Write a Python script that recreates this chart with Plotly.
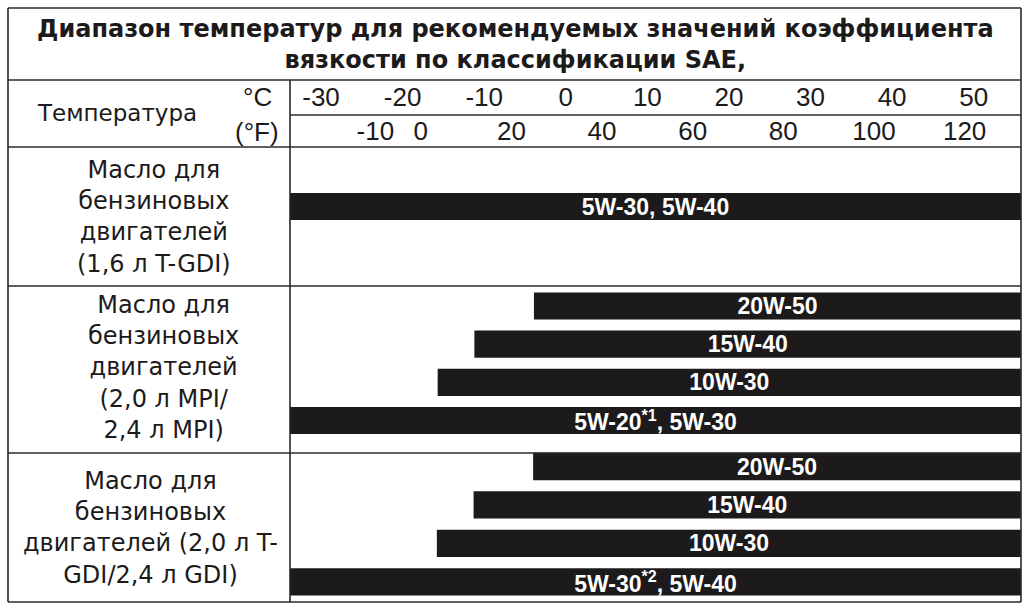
import plotly.graph_objects as go

W, H = 1026, 607

# ---------------- data ----------------
TITLE_LINES = ["Диапазон температур для рекомендуемых значений коэффициента",
               "вязкости по классификации SAE,"]
HEADER_LABEL = "Температура"
C_UNIT = "°C"
F_UNIT = "(°F)"

C_TICKS = [-30, -20, -10, 0, 10, 20, 30, 40, 50]
F_TICKS = [-10, 0, 20, 40, 60, 80, 100, 120]

# temperature range covered by the chart (°C)
T_MIN, T_MAX = -33.8, 55.8

SEC1_LABEL = ["Масло для", "бензиновых", "двигателей", "(1,6 л T-GDI)"]
SEC1_GRADES = ["5W-30, 5W-40"]
SEC1_TEXT = ["5W-30, 5W-40"]
SEC1_START = [T_MIN]
SEC1_END = [T_MAX]

SEC2_LABEL = ["Масло для", "бензиновых", "двигателей", "(2,0 л MPI/", "2,4 л MPI)"]
SEC2_GRADES = ["20W-50", "15W-40", "10W-30", "5W-20*1, 5W-30"]
SEC2_TEXT = ["20W-50", "15W-40", "10W-30", "5W-20<sup>*1</sup>, 5W-30"]
SEC2_START = [-3.9, -11.2, -15.7, T_MIN]
SEC2_END = [T_MAX, T_MAX, T_MAX, T_MAX]

SEC3_LABEL = ["Масло для", "бензиновых", "двигателей (2,0 л T-", "GDI/2,4 л GDI)"]
SEC3_GRADES = ["20W-50", "15W-40", "10W-30", "5W-30*2, 5W-40"]
SEC3_TEXT = ["20W-50", "15W-40", "10W-30", "5W-30<sup>*2</sup>, 5W-40"]
SEC3_START = [-4.0, -11.3, -15.8, T_MIN]
SEC3_END = [T_MAX, T_MAX, T_MAX, T_MAX]


# ---------------- helpers ----------------
def px(x):
    return x / W


def py(y):
    return 1 - y / H


def f_to_c(f):
    return (f - 32) * 5.0 / 9.0


FONT = "Liberation Sans, Arial, sans-serif"
WIDE = "DejaVu Sans, Liberation Sans, sans-serif"
INK = "#1c1a1a"
LINE = "#2a2a2a"

fig = go.Figure()

sections = [
    (SEC1_GRADES, SEC1_TEXT, SEC1_START, SEC1_END, "y"),
    (SEC2_GRADES, SEC2_TEXT, SEC2_START, SEC2_END, "y2"),
    (SEC3_GRADES, SEC3_TEXT, SEC3_START, SEC3_END, "y3"),
]
for grades, texts, starts, ends, yax in sections:
    fig.add_trace(go.Bar(
        y=grades,
        x=[e - s for s, e in zip(starts, ends)],
        base=starts,
        orientation="h",
        text=texts,
        textposition="inside",
        insidetextanchor="middle",
        textangle=0,
        constraintext="none",
        textfont=dict(family=FONT, size=23, color="white", weight="bold"),
        marker=dict(color=INK, line=dict(width=0)),
        xaxis="x",
        yaxis=yax,
        showlegend=False,
        hoverinfo="skip",
    ))

# invisible trace to bring the °F axis to life
fig.add_trace(go.Scatter(x=[T_MIN], y=[SEC1_GRADES[0]], xaxis="x2", yaxis="y",
                         mode="markers", marker=dict(opacity=0),
                         showlegend=False, hoverinfo="skip"))

XDOM = [px(290), px(1021)]
common_x = dict(domain=XDOM, range=[T_MIN, T_MAX], showgrid=False, zeroline=False,
                showline=False, ticks="", fixedrange=True,
                tickfont=dict(family=FONT, size=26, color=INK))

fig.update_layout(
    width=W, height=H,
    margin=dict(l=0, r=0, t=0, b=0),
    paper_bgcolor="white", plot_bgcolor="rgba(0,0,0,0)",
    bargap=0.29,
    xaxis=dict(**common_x, anchor="free", position=py(111), side="top",
               tickmode="array", tickvals=C_TICKS, ticktext=[str(t) for t in C_TICKS]),
    xaxis2=dict(**common_x, anchor="free", position=py(145), side="top",
                overlaying="x", matches="x",
                tickmode="array", tickvals=[f_to_c(f) for f in F_TICKS],
                ticktext=[str(t) for t in F_TICKS]),
    yaxis=dict(domain=[py(225.5), py(187.5)], anchor="x", visible=False,
               autorange="reversed", fixedrange=True),
    yaxis2=dict(domain=[py(439.6), py(286.9)], anchor="x", visible=False,
                autorange="reversed", fixedrange=True),
    yaxis3=dict(domain=[py(601.0), py(447.3)], anchor="x", visible=False,
                autorange="reversed", fixedrange=True),
)

# ---------------- table grid ----------------
def hline(y, x0=8, x1=1021):
    fig.add_shape(type="line", xref="paper", yref="paper",
                  x0=px(x0), x1=px(x1), y0=py(y), y1=py(y),
                  line=dict(color=LINE, width=1.6))


def vline(x, y0, y1):
    fig.add_shape(type="line", xref="paper", yref="paper",
                  x0=px(x), x1=px(x), y0=py(y0), y1=py(y1),
                  line=dict(color=LINE, width=1.6))


for y in [8, 80, 147, 286, 453, 602]:
    hline(y)
hline(115, 290, 1021)
vline(8, 8, 602)
vline(1021, 8, 602)
vline(290, 80, 602)

# ---------------- texts ----------------
def ann(text, x, y, size=24, bold=False, family=FONT):
    fig.add_annotation(text=text, x=px(x), y=py(y), xref="paper", yref="paper",
                       showarrow=False, xanchor="center", yanchor="middle",
                       align="center",
                       font=dict(family=family, size=size, color=INK,
                                 weight="bold" if bold else "normal"))


ann("<br>".join(TITLE_LINES), 515, 45, size=24, bold=True, family=WIDE)
ann(HEADER_LABEL, 117, 113, size=23, family=WIDE)
ann(C_UNIT, 257, 97, size=26)
ann(F_UNIT, 257, 132, size=26)
ann("<br>".join(SEC1_LABEL), 154, 217, size=24, family=WIDE)
ann("<br>".join(SEC2_LABEL), 163, 367, size=24, family=WIDE)
ann("<br>".join(SEC3_LABEL), 150, 528, size=24, family=WIDE)

fig.write_html("out.html", config={"displayModeBar": False},
               post_script="document.body.style.margin='0';")
